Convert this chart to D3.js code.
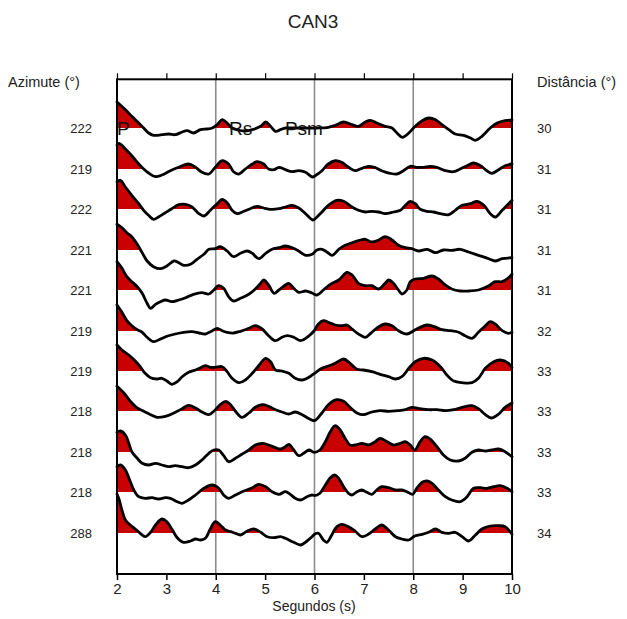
<!DOCTYPE html>
<html><head><meta charset="utf-8">
<script src="https://cdn.jsdelivr.net/npm/d3@7/dist/d3.min.js"></script>
<style>body{margin:0;background:#fff}svg{display:block}</style>
</head><body><svg id="c" width="627" height="619"></svg>
<script>
const title = "CAN3";
const leftTitle = "Azimute (°)";
const rightTitle = "Distância (°)";
const xTitle = "Segundos (s)";
const azimuths = [222,219,222,221,221,219,219,218,218,218,288];
const distances = [30,31,31,31,31,32,33,33,33,33,34];
const timeTicks = [2,3,4,5,6,7,8,9,10];
const gridTimes = [4,6,8];
const phaseNames = ["P","Rs","Psm"];
const phaseTimes = [2.0,4.27,5.40];

// traces: [time (s), amplitude (arbitrary units)]
const trace1 = [[2.00,26],[2.17,18.3],[2.30,11.7],[2.44,5],[2.54,0],[2.64,-5],[2.74,-7.3],[2.91,-6.7],[3.05,-6],[3.18,-6.7],[3.32,-4],[3.42,-2.7],[3.55,-5],[3.69,-1.7],[3.82,-1],[3.93,0],[4.03,3.3],[4.13,8.3],[4.23,5],[4.33,0],[4.45,-2],[4.60,-3],[4.74,-1.7],[4.91,1.7],[5.01,6],[5.11,1.7],[5.21,-3.3],[5.31,-1.7],[5.41,0],[5.60,0],[5.80,0],[6.05,0],[6.28,0.7],[6.42,2.7],[6.59,6],[6.76,3.3],[6.89,1.7],[7.03,6],[7.13,7.7],[7.26,5],[7.43,1.7],[7.57,0],[7.67,-5],[7.78,-9.3],[7.91,-5],[8.04,1.7],[8.18,7.3],[8.31,10],[8.45,8.3],[8.58,3.3],[8.72,-1.7],[8.85,-6],[9.02,-7.3],[9.16,-10],[9.26,-12.3],[9.39,-8.3],[9.56,0],[9.70,5],[9.86,7.3],[10.0,8]];
const trace2 = [[2.00,24],[2.04,25.7],[2.17,20],[2.30,13.3],[2.44,5],[2.54,0],[2.64,-4],[2.78,-7.7],[2.91,-6],[3.08,-1.7],[3.25,1.7],[3.45,5],[3.59,1.7],[3.72,-3.3],[3.86,-5],[3.99,1.7],[4.13,8.3],[4.26,5],[4.36,-2.7],[4.47,-5],[4.60,0],[4.74,5],[4.84,7.3],[4.97,5],[5.07,0],[5.18,-0.7],[5.28,1.7],[5.41,-0.7],[5.55,-2.7],[5.68,-1.7],[5.82,-3.3],[5.96,-8],[6.05,-5.5],[6.15,-1.7],[6.28,5],[6.42,8.3],[6.55,6.7],[6.69,1.7],[6.82,-1.7],[6.96,0.7],[7.09,2.7],[7.23,1.3],[7.36,-1.7],[7.53,-4.3],[7.67,-5],[7.80,-1.7],[7.94,2.7],[8.07,1.7],[8.21,1.7],[8.34,2.7],[8.48,1.7],[8.65,-1.7],[8.82,-2.7],[8.95,0],[9.09,3.3],[9.22,6],[9.36,3.3],[9.49,-1.7],[9.59,-4.3],[9.73,-0.7],[9.86,3.3],[10.0,5]];
const trace3 = [[2.00,27],[2.07,28.7],[2.17,22],[2.30,13.7],[2.44,5.3],[2.54,-1.3],[2.64,-6.3],[2.74,-10.3],[2.84,-8],[2.98,-3.7],[3.11,0.3],[3.25,4.3],[3.39,4.7],[3.52,2],[3.66,-4.7],[3.76,-7],[3.89,-1.3],[4.03,5.3],[4.13,9.7],[4.23,6.3],[4.33,-1.3],[4.43,-4.7],[4.57,-2.3],[4.70,0.3],[4.84,2.7],[4.97,1],[5.11,-0.3],[5.28,0.3],[5.41,2],[5.55,3.7],[5.68,1],[5.82,-4.7],[5.97,-11],[6.05,-8],[6.15,-3],[6.28,3.7],[6.45,8.7],[6.59,7.7],[6.76,2],[6.89,-1.3],[7.03,-3],[7.16,-2.3],[7.30,-3],[7.43,-4.7],[7.60,-3],[7.74,-1.3],[7.84,3.7],[7.94,7.7],[8.04,5.3],[8.14,-0.3],[8.28,-2.3],[8.41,-3],[8.55,-4.7],[8.72,-5.7],[8.85,-1.3],[8.99,3.7],[9.16,5.3],[9.29,7.7],[9.43,3.7],[9.56,-4.7],[9.66,-8],[9.80,-1.3],[9.90,3.7],[10.0,8.7]];
const trace4 = [[2.00,25.7],[2.10,22.3],[2.20,17.3],[2.30,13.3],[2.41,5.7],[2.51,-2.7],[2.61,-11],[2.74,-16.7],[2.88,-18.7],[3.01,-16],[3.15,-11],[3.25,-12.7],[3.35,-15.3],[3.49,-14.3],[3.62,-9.3],[3.76,-4.3],[3.86,0.7],[3.99,1.3],[4.09,3.3],[4.23,-1],[4.36,-6.7],[4.50,-3.3],[4.64,-1],[4.74,-3.3],[4.87,-8.7],[5.01,-3.3],[5.14,0.7],[5.28,2.3],[5.41,4],[5.55,2.3],[5.68,-1],[5.82,-5.3],[5.95,-4.3],[6.05,0],[6.15,0.7],[6.25,-2],[6.36,-5.3],[6.49,0.7],[6.62,4.7],[6.76,7.3],[6.93,10],[7.03,10.7],[7.16,8],[7.30,10],[7.43,13.3],[7.57,10],[7.70,4.7],[7.84,2.3],[7.97,1.3],[8.11,-1],[8.28,0.7],[8.45,-2.7],[8.61,0],[8.78,-0.3],[8.95,0.7],[9.12,-2],[9.32,-5.3],[9.53,-8.7],[9.66,-11],[9.80,-8.7],[10.0,-7.7]];
const trace5 = [[2.00,28.3],[2.10,21.7],[2.20,13.3],[2.30,8.3],[2.41,3.3],[2.51,-3.3],[2.61,-13.3],[2.68,-18.3],[2.78,-14.3],[2.88,-11.7],[2.98,-10],[3.11,-11.7],[3.25,-10],[3.39,-7.7],[3.55,-4.3],[3.72,-2.7],[3.86,-4],[3.96,0],[4.06,4.3],[4.16,1.7],[4.26,-6.7],[4.36,-11],[4.50,-8.3],[4.67,-4.3],[4.80,1],[4.91,6.7],[4.97,10],[5.07,5],[5.18,-3.3],[5.28,0],[5.41,5],[5.48,6.7],[5.58,1.7],[5.68,-2.3],[5.82,-1],[5.95,-3],[6.05,-5],[6.18,0],[6.32,5.7],[6.49,10],[6.66,17.7],[6.76,15],[6.89,6.7],[7.03,4.3],[7.16,4.3],[7.30,1],[7.43,6.7],[7.50,10],[7.60,6.7],[7.70,0],[7.77,-4],[7.87,0],[7.94,8.3],[8.04,11],[8.21,11.7],[8.38,14],[8.51,11],[8.65,5],[8.78,1],[8.95,-1],[9.12,-1],[9.32,0],[9.53,4.3],[9.66,8.3],[9.80,8.3],[9.93,12.3],[10.0,15.7]];
const trace6 = [[2.00,26],[2.10,18.7],[2.20,10.3],[2.30,5.3],[2.41,1.3],[2.51,-1.3],[2.61,-6.3],[2.74,-10.7],[2.88,-8],[3.01,-5.3],[3.18,-3],[3.35,-1.3],[3.52,-0.7],[3.66,-2],[3.79,-3],[3.93,0.3],[4.03,2.7],[4.13,0.3],[4.23,-1.3],[4.36,-2],[4.50,-0.3],[4.67,2.7],[4.80,5.3],[4.94,2],[5.07,-4.7],[5.21,-9.7],[5.34,-6.3],[5.45,-4.7],[5.58,-6.3],[5.72,-9.7],[5.85,-6.3],[5.99,0],[6.08,7],[6.18,10.3],[6.28,8.7],[6.42,6],[6.55,5.3],[6.66,6],[6.76,2],[6.89,-3],[7.03,-6.3],[7.16,-1.3],[7.30,4.3],[7.43,7],[7.57,5.3],[7.70,0.3],[7.87,-3],[8.01,0.3],[8.14,3.7],[8.28,6],[8.41,4.7],[8.58,1.3],[8.75,0.3],[8.92,-1.3],[9.05,-4.7],[9.19,-7.3],[9.32,-1.3],[9.46,5.3],[9.56,9.3],[9.66,7],[9.80,0.3],[9.93,-2.3],[10.0,-1.3]];
const trace7 = [[2.00,26],[2.10,21],[2.24,16],[2.37,10],[2.47,4.3],[2.57,-2.3],[2.68,-6.7],[2.81,-8],[2.91,-7.3],[3.01,-10],[3.11,-13.3],[3.22,-10.7],[3.32,-5.7],[3.45,-1.3],[3.59,1],[3.69,3.3],[3.79,5.3],[3.89,3.7],[3.99,3.7],[4.13,4.3],[4.23,-0.7],[4.33,-7.3],[4.47,-11.7],[4.60,-9],[4.74,-2.3],[4.87,5.3],[5.01,12.7],[5.11,9.3],[5.21,1],[5.34,0],[5.48,-2.3],[5.61,-7.3],[5.75,-9],[5.88,-6.5],[6.00,-2.3],[6.15,2.7],[6.28,5],[6.42,7.7],[6.59,12],[6.72,7.7],[6.86,1.7],[6.99,1],[7.16,-0.7],[7.33,-3.3],[7.50,-5.7],[7.64,-8],[7.77,-5.7],[7.91,2.7],[8.04,9.3],[8.21,12.7],[8.38,11],[8.55,4.3],[8.68,-4],[8.82,-10],[8.99,-11.7],[9.19,-11.7],[9.32,-7.3],[9.46,2.7],[9.63,9.3],[9.76,11],[9.93,7.7],[10.0,3.3]];
const trace8 = [[2.00,24.7],[2.14,18],[2.27,9.7],[2.41,3],[2.54,-0.3],[2.68,-3.7],[2.81,-6.3],[2.98,-5.3],[3.15,-2],[3.32,2.3],[3.45,5.7],[3.59,3],[3.72,-1],[3.86,-3.7],[3.96,-0.3],[4.09,6.3],[4.20,9.7],[4.30,6.3],[4.40,-0.3],[4.53,-6.3],[4.67,-2],[4.80,3.7],[4.94,6.3],[5.07,4.7],[5.21,1.3],[5.34,-1],[5.48,-3],[5.61,-1],[5.75,-3.7],[5.89,-7.7],[6.00,-9.7],[6.15,-2],[6.28,6.3],[6.45,11.3],[6.59,9.7],[6.72,3.7],[6.86,-2],[6.99,-3.7],[7.16,-1],[7.33,0.3],[7.50,-0.3],[7.67,0.3],[7.84,1.3],[7.97,3.7],[8.14,2.3],[8.31,1.3],[8.48,1.3],[8.65,0.3],[8.82,1.3],[8.99,3.7],[9.19,5.3],[9.32,2.3],[9.46,-3.7],[9.58,-7],[9.73,-3],[9.86,3.7],[10.0,8]];
const trace9 = [[2.00,19.7],[2.07,21],[2.17,17],[2.24,8.7],[2.30,0.3],[2.41,-6.3],[2.51,-11.3],[2.64,-13],[2.78,-11.3],[2.91,-13],[3.05,-14.7],[3.18,-13.7],[3.32,-14.7],[3.45,-15.7],[3.59,-13],[3.72,-8],[3.86,-1.3],[3.96,2],[4.06,2],[4.16,-3.7],[4.26,-9.7],[4.40,-6.3],[4.53,-2.3],[4.67,2],[4.80,7],[4.94,8.7],[5.07,7],[5.21,4.3],[5.31,3],[5.41,5.3],[5.48,7.7],[5.58,2],[5.68,-3.7],[5.78,-1.3],[5.89,2],[5.99,-0.3],[6.11,2],[6.22,10.3],[6.32,20.3],[6.42,26.3],[6.52,22],[6.62,13.7],[6.72,7],[6.82,7],[6.96,8.7],[7.09,7],[7.23,10.3],[7.33,13.7],[7.47,10.3],[7.60,7],[7.74,8.7],[7.84,10.3],[7.94,7],[8.03,2],[8.14,10.3],[8.24,15.3],[8.34,13],[8.48,5.3],[8.61,-3],[8.75,-8],[8.92,-9],[9.05,-6.3],[9.19,-0.3],[9.32,2],[9.46,1],[9.59,2],[9.73,3],[9.86,0.3],[10.0,-4.7]];
const trace10 = [[2.00,25.3],[2.07,27],[2.17,22],[2.27,10.3],[2.34,2],[2.44,-4.7],[2.57,-6.3],[2.71,-5.7],[2.84,-7],[2.98,-5.7],[3.08,-6.3],[3.22,-9.7],[3.32,-11.3],[3.45,-8],[3.59,-3],[3.76,3.7],[3.93,7],[4.06,3.7],[4.16,-3],[4.26,-6.3],[4.40,-3],[4.57,1],[4.74,4.3],[4.87,7.7],[5.01,5.3],[5.14,0.3],[5.28,-2.3],[5.41,0.3],[5.51,-2.3],[5.61,-6.3],[5.72,-8],[5.85,-4.7],[5.95,-3],[6.00,-3.7],[6.11,-1.3],[6.22,7],[6.32,14.3],[6.41,17],[6.49,13.7],[6.59,5.3],[6.69,-1.3],[6.76,-3],[6.86,0.3],[6.96,2],[7.06,-0.3],[7.16,-2.3],[7.26,2],[7.36,5.3],[7.50,4.3],[7.64,2],[7.77,2],[7.87,0.3],[7.99,-2.3],[8.07,3.7],[8.18,9.7],[8.28,11],[8.38,8.7],[8.51,2],[8.65,-4.7],[8.78,-8],[8.95,-9.7],[9.09,-4.7],[9.22,3.7],[9.36,4.3],[9.49,3.7],[9.63,5.3],[9.76,6.3],[9.90,3.7],[10.0,0.3]];
const trace11 = [[2.00,39],[2.04,34],[2.10,23],[2.17,13],[2.27,8],[2.37,4],[2.47,-0.3],[2.57,-3.7],[2.68,0.7],[2.78,8],[2.91,14],[3.01,11.3],[3.11,4],[3.22,-4.7],[3.35,-9.3],[3.49,-8],[3.59,-6],[3.69,-7],[3.79,-5.3],[3.89,4],[3.99,11.3],[4.09,8],[4.20,3],[4.30,1.3],[4.40,-0.3],[4.50,-2],[4.64,2],[4.77,4],[4.91,0.7],[5.04,-3.7],[5.18,-4.7],[5.31,-3.7],[5.41,-5.3],[5.58,-9.3],[5.72,-12],[5.85,-8],[5.95,-3.7],[6.00,-1.3],[6.08,-0.3],[6.18,-7],[6.25,-9.3],[6.35,-2],[6.45,6.3],[6.55,8.7],[6.69,6.3],[6.82,2],[6.96,-3.7],[7.09,-1.3],[7.23,4],[7.36,8],[7.50,3],[7.64,-3.7],[7.77,-6],[7.91,-7],[8.04,-2.7],[8.18,-1.3],[8.31,0.7],[8.45,4],[8.58,0.7],[8.72,-0.3],[8.85,0.7],[8.99,-3.7],[9.12,-8],[9.26,-2],[9.39,4],[9.56,7],[9.73,7.3],[9.86,6.3],[10.0,-1.3]];
const traces = [trace1,trace2,trace3,trace4,trace5,trace6,trace7,trace8,trace9,trace10,trace11];

const svg = d3.select("#c");
svg.append("rect").attr("width",627).attr("height",619).attr("fill","#fff");
const font = "'Liberation Sans', Arial, sans-serif";

const x = d3.scaleLinear().domain([2,10]).range([117,512]);
const row = d3.scaleLinear().domain([0,10]).range([128.3,532.8]).interpolate(d3.interpolateRound);
const amp = d3.scaleLinear().domain([-40,40]).range([40,-40]);
const plotTop = 79.3, plotBottom = 574;

// grid
svg.append("g").selectAll("line").data(gridTimes).join("line")
  .attr("x1",d=>x(d)).attr("x2",d=>x(d)).attr("y1",plotTop).attr("y2",plotBottom)
  .attr("stroke","#8c8c8c").attr("stroke-width",1.6);

const defs = svg.append("defs");
traces.forEach((tr,i)=>{
  const base = row(i);
  const id = "clip"+i;
  defs.append("clipPath").attr("id",id).append("rect")
    .attr("x",x(2)).attr("y",base-60).attr("width",x(10)-x(2)).attr("height",60);
  const curve = d3.curveCatmullRom.alpha(0.5);
  const area = d3.area().x(d=>x(d[0])).y0(base).y1(d=>base+amp(d[1])).curve(curve);
  const line = d3.line().x(d=>x(d[0])).y(d=>base+amp(d[1])).curve(curve);
  const g = svg.append("g");
  g.append("path").attr("d",area(tr)).attr("fill","#c80000").attr("clip-path",`url(#${id})`);
  g.append("path").attr("d",line(tr)).attr("fill","none").attr("stroke","#000")
    .attr("stroke-width",2.8).attr("stroke-linejoin","round").attr("stroke-linecap","round");
});

// frame
svg.append("rect").attr("x",x(2)).attr("y",plotTop).attr("width",x(10)-x(2)).attr("height",plotBottom-plotTop)
  .attr("fill","none").attr("stroke","#000").attr("stroke-width",2);

// axes
const bottomAxis = svg.append("g").attr("transform",`translate(0,${plotBottom})`)
  .call(d3.axisBottom(x).tickValues(timeTicks).tickFormat(d3.format("d")).tickSize(6).tickPadding(3));
bottomAxis.select(".domain").remove();
bottomAxis.selectAll("line").attr("stroke","#000").attr("stroke-width",1.5);
bottomAxis.selectAll("text").attr("font-family",font).attr("font-size",15).attr("fill","#222");
const topAxis = svg.append("g").attr("transform",`translate(0,${plotTop})`)
  .call(d3.axisTop(x).tickValues(timeTicks).tickFormat("").tickSize(6));
topAxis.select(".domain").remove();
topAxis.selectAll("line").attr("stroke","#000").attr("stroke-width",1.2);

// row labels
svg.append("g").selectAll("text").data(azimuths).join("text")
  .attr("x",92).attr("y",(d,i)=>row(i)+4.5).attr("text-anchor","end")
  .attr("font-family",font).attr("font-size",13).attr("fill","#222").text(d=>d);
svg.append("g").selectAll("text").data(distances).join("text")
  .attr("x",537).attr("y",(d,i)=>row(i)+4.5).attr("text-anchor","start")
  .attr("font-family",font).attr("font-size",13).attr("fill","#222").text(d=>d);

// phase labels
svg.append("g").selectAll("text").data(phaseNames).join("text")
  .attr("x",(d,i)=>x(phaseTimes[i])).attr("y",row(0)+7)
  .attr("font-family",font).attr("font-size",19).attr("fill","#111").text(d=>d);

// titles
svg.append("text").attr("x",313).attr("y",28).attr("text-anchor","middle")
  .attr("font-family",font).attr("font-size",19).attr("fill","#222").text(title);
svg.append("text").attr("x",8).attr("y",87).attr("font-family",font).attr("font-size",14.5).attr("fill","#222").text(leftTitle);
svg.append("text").attr("x",537).attr("y",87).attr("font-family",font).attr("font-size",14.5).attr("fill","#222").text(rightTitle);
svg.append("text").attr("x",314).attr("y",611).attr("text-anchor","middle")
  .attr("font-family",font).attr("font-size",14).attr("fill","#222").text(xTitle);
</script></body></html>
